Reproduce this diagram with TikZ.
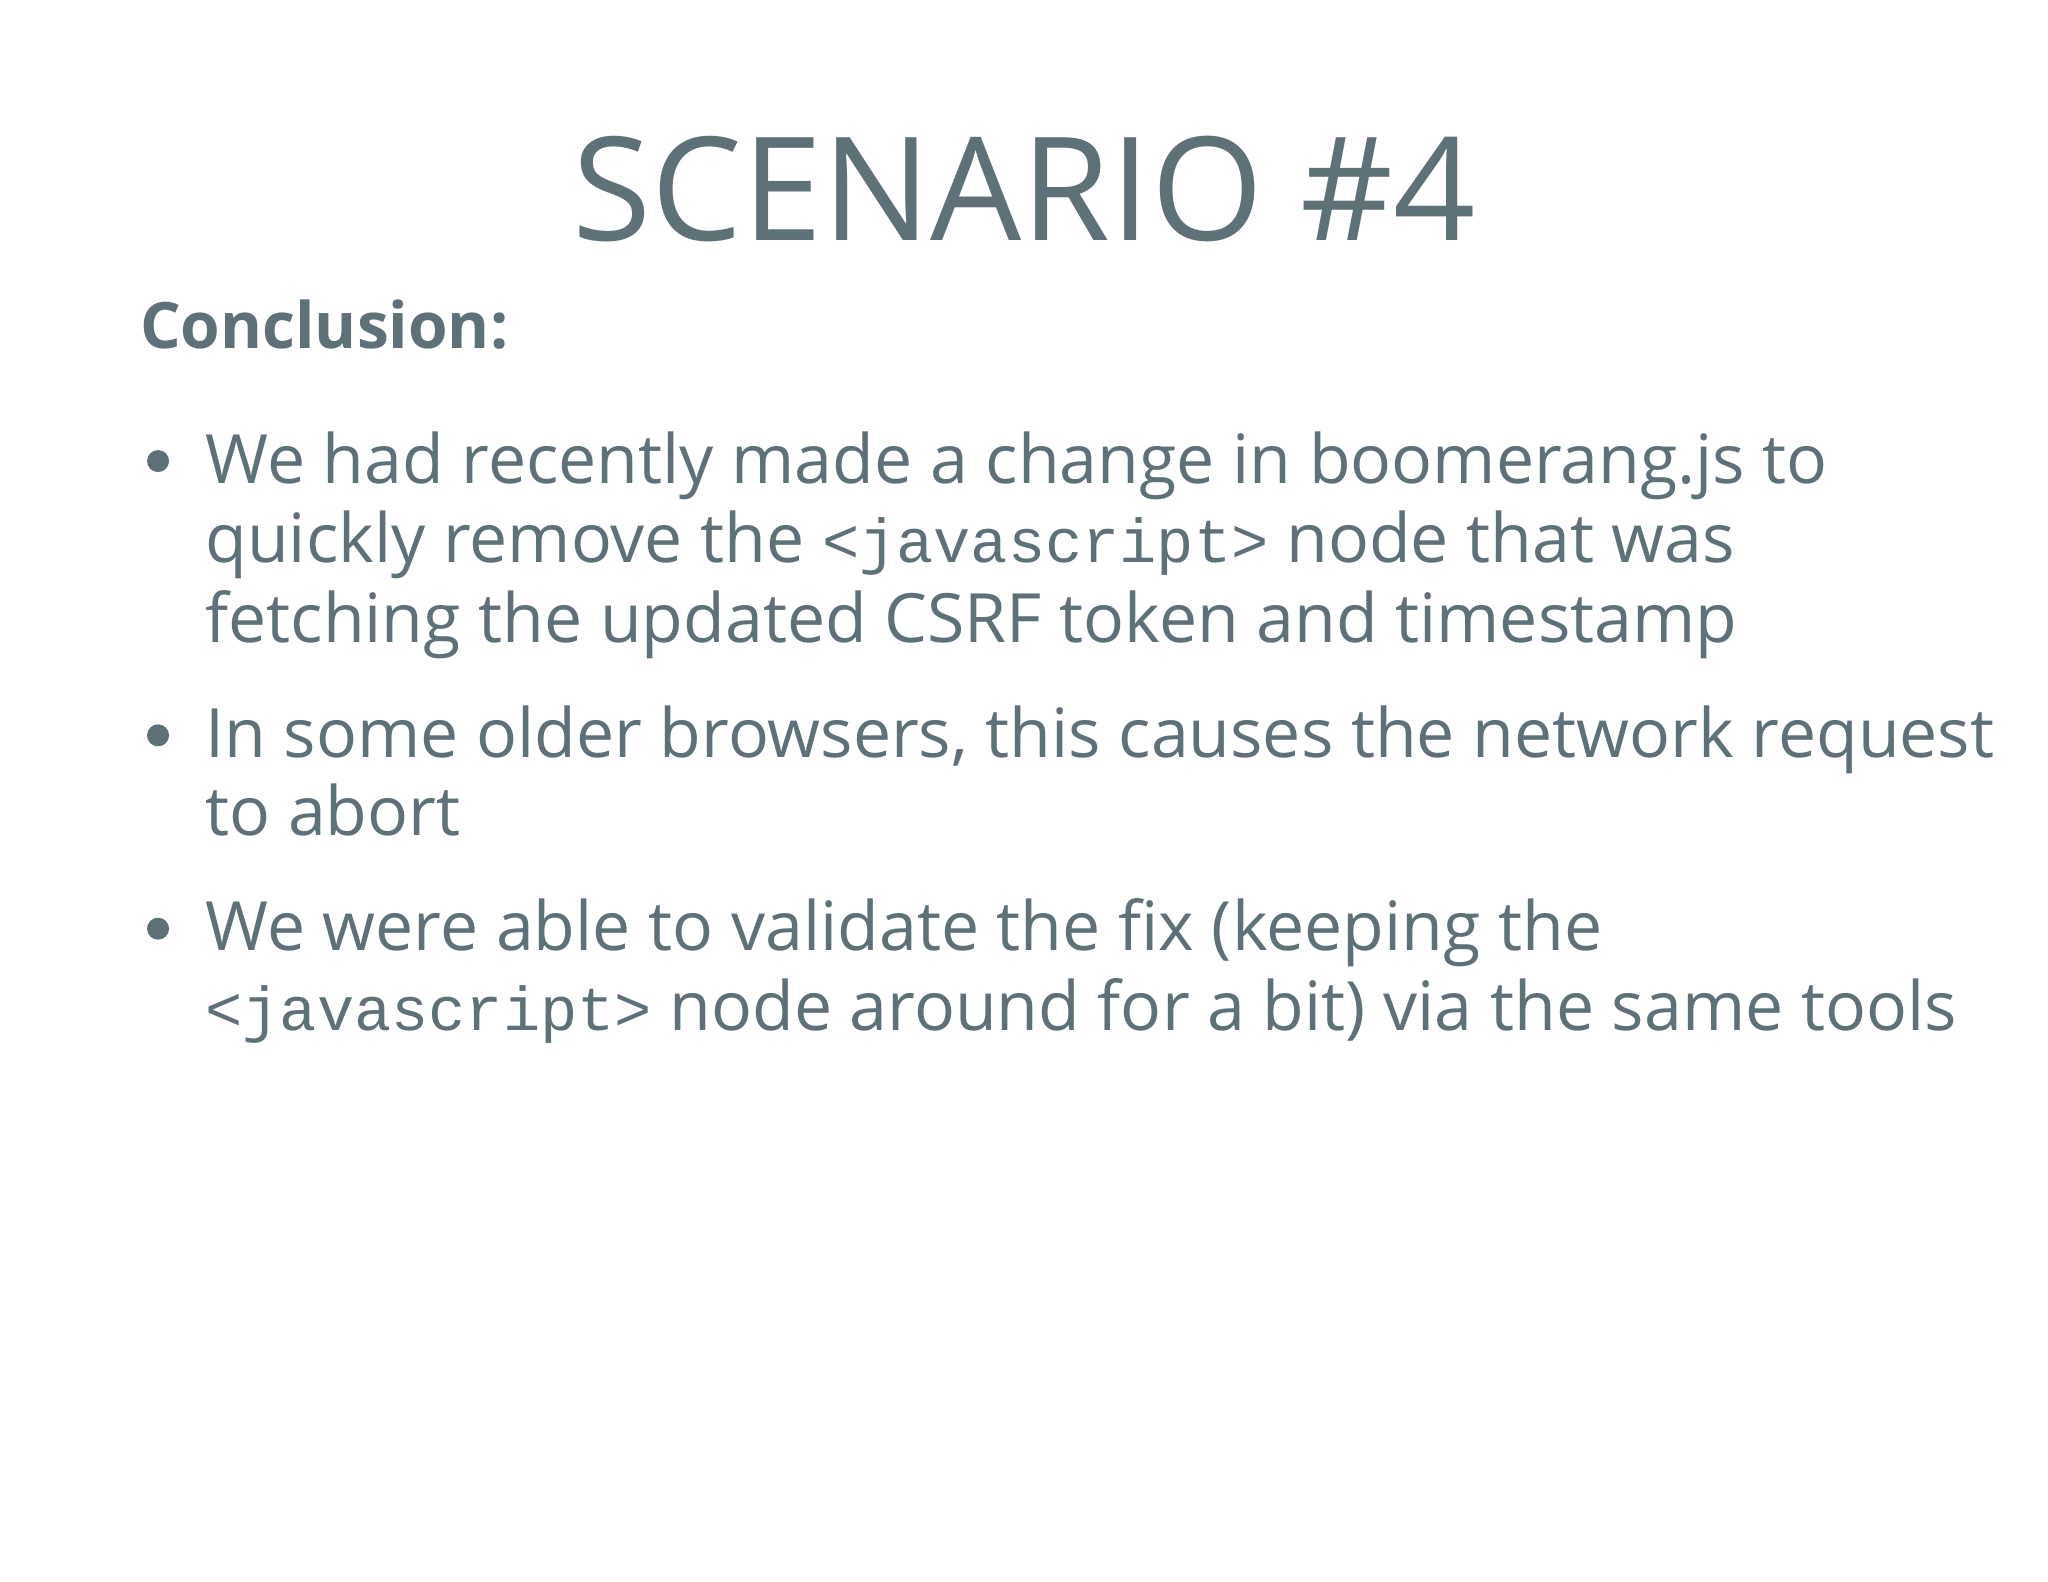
\documentclass[tikz,border=0pt]{standalone}
\usepackage{fontspec}
\setmainfont{Open Sans}
\setmonofont{Liberation Mono}
\definecolor{txt}{HTML}{5F7178}
\begin{document}
\begin{tikzpicture}[x=0.6531pt,y=-0.6531pt,
  ln/.style={anchor=base west,inner sep=0pt,text=txt,font=\fontsize{34}{40}\selectfont},
  bul/.style={circle,fill=txt,inner sep=0pt,minimum size=11pt}]
\newcommand{\js}{{\ttfamily\fontsize{31}{40}\selectfont<javascript>}}
\fill[white] (0,0) rectangle (1568,1211);
\useasboundingbox (0,0) rectangle (1568,1211);
\node[anchor=base,inner sep=0pt,text=txt,font=\fontsize{72}{80}\selectfont] (title) at (784,184) {SCENARIO \#4};
\node[ln,font=\bfseries\fontsize{32}{40}\selectfont] (concl) at (107,267) {Conclusion:};
\node[bul] (b1) at (121,353) {};
\node[bul] (b2) at (121,563) {};
\node[bul] (b3) at (121,711) {};
\node[ln] (l1) at (157,370) {We had recently made a change in boomerang.js to};
\node[ln] (l2) at (157,431) {quickly remove the \js{} node that was};
\node[ln] (l3) at (157,492) {fetching the updated CSRF token and timestamp};
\node[ln] (l4) at (157,580) {In some older browsers, this causes the network request};
\node[ln] (l5) at (157,640) {to abort};
\node[ln] (l6) at (157,728) {We were able to validate the fix (keeping the};
\node[ln] (l7) at (157,789) {\js{} node around for a bit) via the same tools};
\end{tikzpicture}
\end{document}
